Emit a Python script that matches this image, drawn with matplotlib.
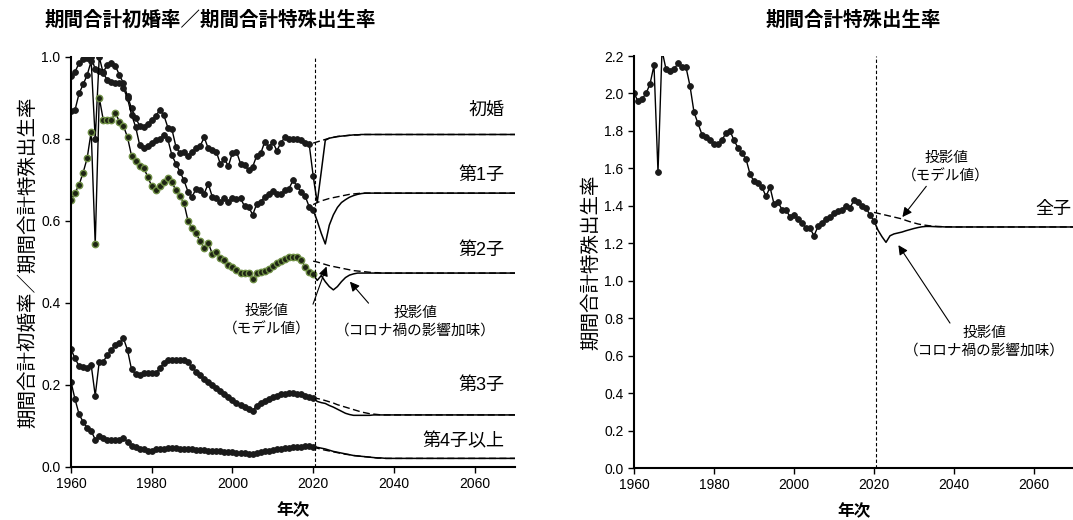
import matplotlib.pyplot as plt
import numpy as np

plt.rcParams['font.family'] = ['Liberation Sans', 'Noto Sans CJK JP']

# observed 1960-2020
years = np.arange(1960, 2021)
first_marriage = [0.954, 0.964, 0.985, 0.995, 0.997, 1.000, 0.970, 0.965, 0.964, 0.980,
                  0.985, 0.978, 0.956, 0.936, 0.904, 0.875, 0.852, 0.832, 0.829, 0.837,
                  0.846, 0.856, 0.871, 0.858, 0.828, 0.824, 0.781, 0.765, 0.769, 0.759,
                  0.769, 0.777, 0.783, 0.804, 0.777, 0.773, 0.769, 0.739, 0.751, 0.734,
                  0.767, 0.769, 0.740, 0.736, 0.724, 0.732, 0.759, 0.765, 0.793, 0.781,
                  0.793, 0.771, 0.791, 0.804, 0.799, 0.801, 0.799, 0.797, 0.790, 0.788,
                  0.710]
first_child = [0.868, 0.871, 0.911, 0.933, 0.956, 0.990, 0.800, 1.000, 0.960, 0.944,
               0.940, 0.936, 0.936, 0.924, 0.899, 0.859, 0.830, 0.786, 0.778, 0.782,
               0.790, 0.798, 0.800, 0.810, 0.799, 0.760, 0.740, 0.720, 0.699, 0.671,
               0.659, 0.679, 0.675, 0.667, 0.691, 0.659, 0.655, 0.647, 0.655, 0.647,
               0.655, 0.653, 0.655, 0.636, 0.635, 0.615, 0.641, 0.647, 0.659, 0.667,
               0.674, 0.667, 0.666, 0.675, 0.679, 0.699, 0.685, 0.671, 0.661, 0.635,
               0.627]
second_child = [0.651, 0.669, 0.688, 0.718, 0.753, 0.818, 0.543, 0.901, 0.846, 0.846,
                0.846, 0.864, 0.842, 0.832, 0.804, 0.759, 0.747, 0.733, 0.730, 0.708,
                0.685, 0.676, 0.685, 0.696, 0.704, 0.694, 0.675, 0.660, 0.643, 0.600,
                0.582, 0.570, 0.550, 0.535, 0.547, 0.520, 0.525, 0.510, 0.505, 0.493,
                0.487, 0.480, 0.474, 0.472, 0.472, 0.458, 0.474, 0.475, 0.478, 0.484,
                0.490, 0.497, 0.502, 0.508, 0.511, 0.513, 0.511, 0.505, 0.489, 0.476,
                0.470]
third_child = [0.287, 0.265, 0.246, 0.243, 0.241, 0.249, 0.174, 0.257, 0.257, 0.273,
               0.285, 0.298, 0.302, 0.314, 0.285, 0.238, 0.227, 0.225, 0.229, 0.230,
               0.229, 0.229, 0.241, 0.253, 0.262, 0.261, 0.261, 0.262, 0.262, 0.255,
               0.243, 0.232, 0.224, 0.215, 0.207, 0.200, 0.193, 0.185, 0.178, 0.170,
               0.163, 0.157, 0.152, 0.147, 0.142, 0.137, 0.150, 0.157, 0.162, 0.167,
               0.171, 0.174, 0.177, 0.178, 0.180, 0.180, 0.179, 0.177, 0.174, 0.171,
               0.168]
fourth_plus = [0.208, 0.165, 0.129, 0.110, 0.096, 0.088, 0.067, 0.075, 0.070, 0.067,
               0.066, 0.066, 0.066, 0.071, 0.062, 0.051, 0.048, 0.044, 0.043, 0.040,
               0.040, 0.043, 0.044, 0.045, 0.046, 0.046, 0.046, 0.045, 0.045, 0.044,
               0.043, 0.042, 0.041, 0.041, 0.040, 0.040, 0.039, 0.038, 0.037, 0.036,
               0.036, 0.035, 0.034, 0.033, 0.032, 0.031, 0.033, 0.036, 0.038, 0.040,
               0.042, 0.043, 0.045, 0.046, 0.047, 0.048, 0.049, 0.050, 0.051, 0.051,
               0.050]
tfr = [2.00, 1.96, 1.97, 2.00, 2.05, 2.15, 1.58, 2.23, 2.13, 2.12,
       2.13, 2.16, 2.14, 2.14, 2.04, 1.90, 1.84, 1.78, 1.77, 1.75,
       1.73, 1.73, 1.75, 1.79, 1.80, 1.75, 1.71, 1.68, 1.65, 1.57,
       1.53, 1.52, 1.50, 1.45, 1.50, 1.41, 1.42, 1.38, 1.38, 1.34,
       1.35, 1.33, 1.31, 1.28, 1.28, 1.24, 1.29, 1.31, 1.33, 1.34,
       1.36, 1.37, 1.38, 1.40, 1.39, 1.43, 1.42, 1.40, 1.39, 1.35,
       1.32]

# projections 2020-2040, then flat to 2070
proj_years = list(range(2020, 2041)) + [2070]
first_marriage_model = [0.790, 0.793, 0.796, 0.799, 0.802, 0.804, 0.806, 0.807, 0.808, 0.809,
                        0.810, 0.810, 0.811, 0.811, 0.811, 0.811, 0.811, 0.811, 0.811, 0.811,
                        0.811, 0.811]
first_marriage_covid = [0.710, 0.645, 0.720, 0.797, 0.802, 0.804, 0.806, 0.807, 0.808, 0.809,
                        0.810, 0.810, 0.811, 0.811, 0.811, 0.811, 0.811, 0.811, 0.811, 0.811,
                        0.811, 0.811]
first_child_model = [0.640, 0.645, 0.649, 0.652, 0.655, 0.657, 0.659, 0.661, 0.663, 0.665,
                     0.666, 0.667, 0.668, 0.668, 0.668, 0.668, 0.668, 0.668, 0.668, 0.668,
                     0.668, 0.668]
first_child_covid = [0.627, 0.600, 0.570, 0.544, 0.590, 0.615, 0.633, 0.645, 0.652, 0.658,
                     0.662, 0.665, 0.667, 0.668, 0.668, 0.668, 0.668, 0.668, 0.668, 0.668,
                     0.668, 0.668]
second_child_model = [0.502, 0.500, 0.497, 0.494, 0.491, 0.489, 0.487, 0.485, 0.483, 0.481,
                      0.479, 0.478, 0.477, 0.476, 0.475, 0.474, 0.474, 0.473, 0.473, 0.473,
                      0.473, 0.473]
second_child_covid = [0.470, 0.455, 0.467, 0.452, 0.440, 0.432, 0.440, 0.452, 0.462, 0.468,
                      0.471, 0.473, 0.473, 0.473, 0.473, 0.473, 0.473, 0.473, 0.473, 0.473,
                      0.473, 0.473]
third_child_model = [0.170, 0.167, 0.165, 0.162, 0.159, 0.156, 0.152, 0.149, 0.146, 0.143,
                     0.140, 0.137, 0.134, 0.132, 0.130, 0.129, 0.128, 0.127, 0.127, 0.127,
                     0.127, 0.127]
third_child_covid = [0.168, 0.160, 0.157, 0.155, 0.150, 0.146, 0.141, 0.136, 0.131, 0.128,
                     0.126, 0.126, 0.126, 0.126, 0.126, 0.127, 0.127, 0.127, 0.127, 0.127,
                     0.127, 0.127]
fourth_plus_model = [0.050, 0.046, 0.043, 0.041, 0.039, 0.037, 0.035, 0.033, 0.031, 0.030,
                     0.028, 0.027, 0.026, 0.025, 0.024, 0.023, 0.022, 0.022, 0.021, 0.021,
                     0.021, 0.021]
fourth_plus_covid = [0.050, 0.048, 0.046, 0.044, 0.041, 0.038, 0.036, 0.034, 0.032, 0.030,
                     0.028, 0.027, 0.026, 0.025, 0.024, 0.023, 0.022, 0.022, 0.021, 0.021,
                     0.021, 0.021]
tfr_model = [1.365, 1.360, 1.355, 1.350, 1.345, 1.340, 1.335, 1.330, 1.322, 1.315,
             1.309, 1.303, 1.299, 1.296, 1.293, 1.291, 1.290, 1.289, 1.288, 1.288,
             1.287, 1.287]
tfr_covid = [1.320, 1.270, 1.235, 1.205, 1.240, 1.250, 1.255, 1.260, 1.267, 1.273,
             1.279, 1.284, 1.288, 1.290, 1.290, 1.289, 1.288, 1.288, 1.287, 1.287,
             1.287, 1.287]

left_labels = ['初婚', '第1子', '第2子', '第3子', '第4子以上']
left_label_y = [0.871, 0.712, 0.529, 0.200, 0.062]

fig = plt.figure(figsize=(10.73, 5.2), dpi=100)
ax1 = fig.add_axes([71 / 1073, 53 / 520, 444 / 1073, 410 / 520])
ax2 = fig.add_axes([634 / 1073, 52 / 520, 440 / 1073, 412 / 520])

obs_style = dict(color='black', lw=1.0, marker='o', ms=4.2, mfc='#1a1a1a', mec='#1a1a1a', mew=0.6)
green_style = dict(color='black', lw=1.0, marker='o', ms=4.6, mfc='#1e2414', mec='#6f8f45', mew=1.0)
model_style = dict(color='black', lw=1.0, ls=(0, (5, 2.5)))
covid_style = dict(color='black', lw=1.1)

# left panel
for model, covid in [(first_marriage_model, first_marriage_covid),
                     (first_child_model, first_child_covid),
                     (second_child_model, second_child_covid),
                     (third_child_model, third_child_covid),
                     (fourth_plus_model, fourth_plus_covid)]:
    ax1.plot(proj_years, model, **model_style)
    ax1.plot(proj_years, covid, **covid_style)

ax1.plot(years, first_marriage, **obs_style)
ax1.plot(years, first_child, **obs_style)
ax1.plot(years, second_child, **green_style)
ax1.plot(years, third_child, **obs_style)
ax1.plot(years, fourth_plus, **obs_style)

for lab, y in zip(left_labels, left_label_y):
    ax1.text(2067.3, y, lab, ha='right', va='center', fontsize=13)

arrow = dict(arrowstyle='-|>', color='black', lw=0.8, mutation_scale=14)
ax1.annotate('投影値\n（モデル値）', xy=(2023.3, 0.489), xytext=(2008.4, 0.3585),
             ha='center', va='center', fontsize=10.5, linespacing=1.35,
             arrowprops=dict(arrow, shrinkA=0, shrinkB=0, relpos=(1.0, 0.75)))
ax1.annotate('投影値\n（コロナ禍の影響加味）', xy=(2029.1, 0.452), xytext=(2045.3, 0.354),
             ha='center', va='center', fontsize=10.5, linespacing=1.35,
             arrowprops=dict(arrow, shrinkA=0, shrinkB=0, relpos=(0.25, 0.85)))

ax1.set_xlim(1960, 2070)
ax1.set_ylim(0, 1.0)
ax1.set_yticks(np.arange(0, 1.01, 0.2))
ax1.set_yticklabels([f'{v:.1f}' for v in np.arange(0, 1.01, 0.2)])
ax1.set_ylabel('期間合計初婚率／期間合計特殊出生率', fontsize=14, labelpad=3)

# right panel
ax2.plot(proj_years, tfr_model, **model_style)
ax2.plot(proj_years, tfr_covid, **covid_style)
ax2.plot(years, tfr, **obs_style)
ax2.text(2069.3, 1.38, '全子', ha='right', va='center', fontsize=13)
ax2.annotate('投影値\n（モデル値）', xy=(2027.1, 1.34), xytext=(2038.0, 1.605),
             ha='center', va='center', fontsize=10.5, linespacing=1.35,
             arrowprops=dict(arrow, shrinkA=0, shrinkB=0, relpos=(0.3, 0.0)))
ax2.annotate('投影値\n（コロナ禍の影響加味）', xy=(2026.1, 1.19), xytext=(2047.5, 0.674),
             ha='center', va='center', fontsize=10.5, linespacing=1.35,
             arrowprops=dict(arrow, shrinkA=0, shrinkB=0, relpos=(0.3, 1.0)))

ax2.set_xlim(1960, 2070)
ax2.set_ylim(0, 2.2)
ax2.set_yticks(np.arange(0, 2.21, 0.2))
ax2.set_yticklabels([f'{v:.1f}' for v in np.arange(0, 2.21, 0.2)])
ax2.set_ylabel('期間合計特殊出生率', fontsize=14, labelpad=3)

for ax in (ax1, ax2):
    ax.axvline(2020.5, color='black', lw=0.8, ls=(0, (3, 2)))
    ax.set_xticks([1960, 1980, 2000, 2020, 2040, 2060])
    ax.set_xlabel('年次', fontsize=12, fontweight='bold', labelpad=8)
    ax.spines['top'].set_visible(False)
    ax.spines['right'].set_visible(False)
    ax.spines['left'].set_linewidth(1.5)
    ax.spines['bottom'].set_linewidth(1.5)
    ax.tick_params(direction='out', length=4, width=1, labelsize=10)

fig.text(210 / 1073, 1 - 20 / 520, '期間合計初婚率／期間合計特殊出生率',
         ha='center', va='center', fontsize=14, fontweight='bold')
fig.text(853 / 1073, 1 - 20 / 520, '期間合計特殊出生率',
         ha='center', va='center', fontsize=14, fontweight='bold')

fig.savefig('out.png', dpi=100)
